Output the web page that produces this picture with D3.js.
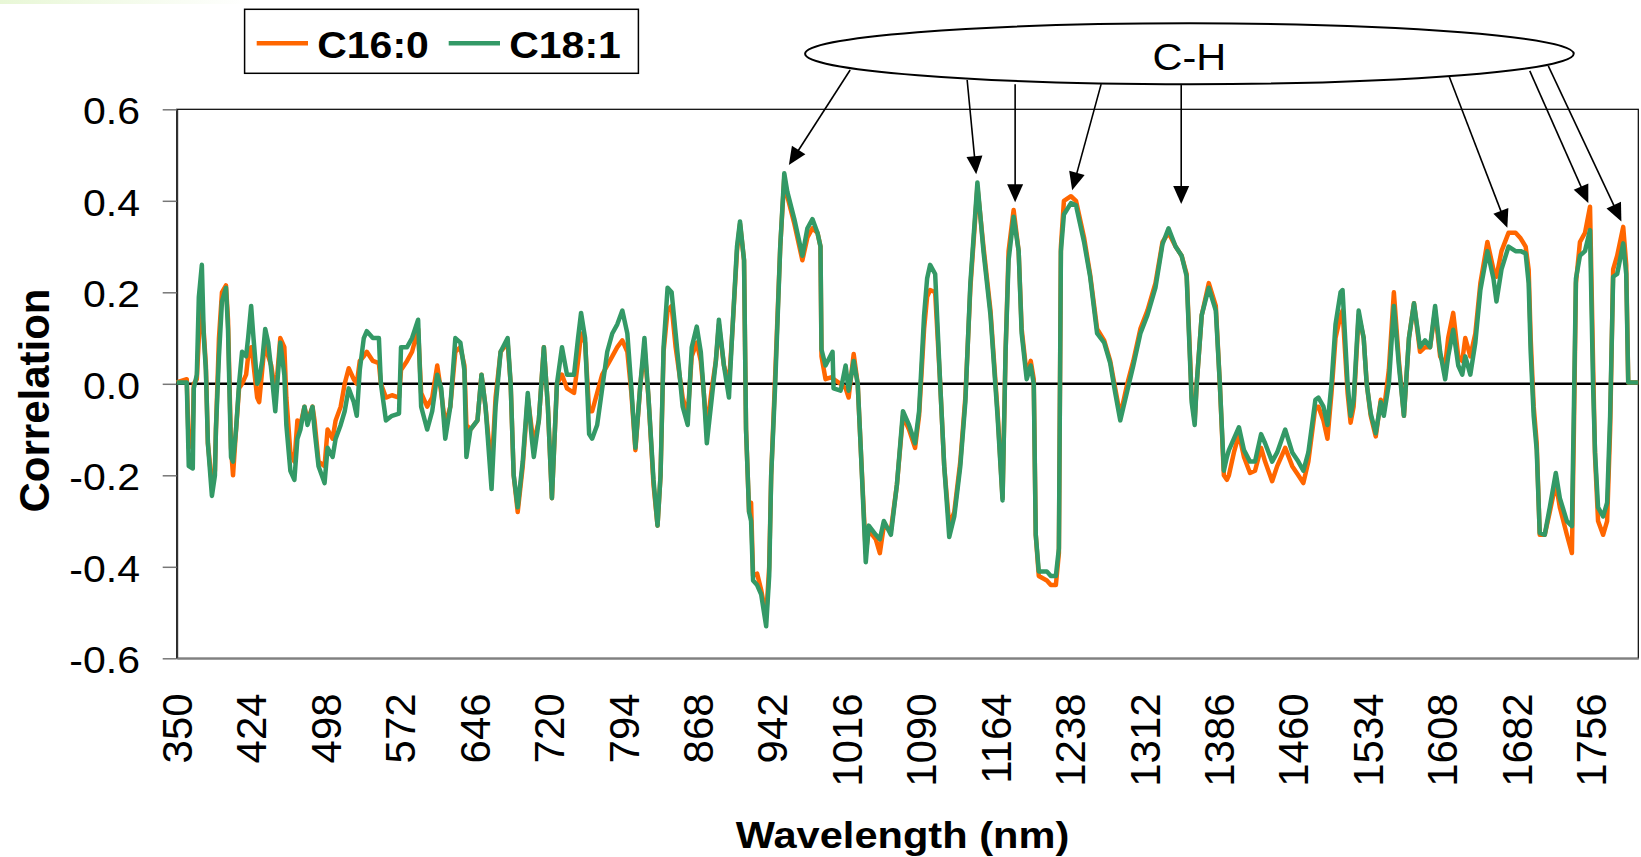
<!DOCTYPE html>
<html>
<head>
<meta charset="utf-8">
<script src="https://cdn.jsdelivr.net/npm/d3@7"></script>
<style>
    body { margin: 0; background: #fff; }
    text { font-family: "Liberation Sans", Arial, sans-serif; }
</style>
</head>
<body>
<div id="container"></div>
<script>
// correlation vs wavelength, [nm, r]
var c16_0 = [[350,.003],[360,.01],[362,-.14],[366,-.1],[367,0],[370,.01],[372,.1],[375,.16],[377,.11],[379,.04],[381,-.13],[385,-.22],[388,-.19],[389,-.1],[392,.1],[395,.2],[399,.215],[401,.14],[404,-.14],[406,-.2],[409,-.1],[412,-.01],[415,0],[419,.02],[421,.06],[424,.08],[426,.05],[430,-.03],[432,-.04],[435,.03],[438,.1],[441,.06],[444,.04],[448,-.02],[450,.02],[453,.1],[457,.08],[459,-.03],[463,-.15],[467,-.17],[470,-.08],[473,-.09],[477,-.05],[480,-.08],[485,-.05],[487,-.08],[491,-.17],[497,-.18],[500,-.1],[505,-.12],[508,-.08],[513,-.05],[517,0],[521,.034],[526,.01],[529,0],[532,.05],[536,.06],[539,.07],[545,.05],[551,.045],[553,0],[558,-.03],[564,-.025],[571,-.03],[573,.03],[579,.05],[584,.07],[590,.12],[593,-.02],[599,-.05],[604,-.03],[609,.04],[613,-.02],[617,-.09],[622,-.05],[627,.07],[632,.08],[636,.04],[638,-.09],[642,-.1],[649,-.08],[653,.02],[657,-.05],[663,-.19],[667,-.03],[672,.07],[679,.09],[682,0],[685,-.2],[689,-.28],[694,-.18],[699,-.03],[703,-.1],[705,-.13],[710,-.08],[715,.08],[719,-.05],[723,-.25],[728,0],[733,.02],[738,-.01],[745,-.02],[749,.05],[752,.11],[756,.09],[760,-.06],[763,-.06],[768,-.02],[773,.02],[778,.04],[783,.06],[788,.08],[793,.095],[798,.07],[802,-.02],[806,-.145],[811,0],[815,.08],[819,-.03],[824,-.22],[828,-.31],[831,-.2],[834,.07],[838,.16],[842,.17],[846,.08],[853,-.03],[858,-.07],[862,.06],[867,.09],[871,.05],[874,-.02],[877,-.1],[882,-.01],[886,.05],[889,.13],[894,.04],[899,0],[902,.1],[907,.29],[910,.35],[914,.27],[916,-.1],[919,-.28],[921,-.26],[923,-.42],[927,-.415],[931,-.45],[936,-.51],[939,-.4],[941,-.2],[945,.02],[950,.3],[954,.45],[957,.41],[964,.35],[972,.27],[977,.32],[982,.34],[987,.33],[990,.3],[991,.06],[995,.01],[1002,.015],[1003,.01],[1010,0],[1015,-.01],[1018,-.03],[1023,.065],[1027,0],[1030,-.14],[1035,-.37],[1038,-.32],[1045,-.34],[1049,-.37],[1053,-.31],[1060,-.32],[1066,-.22],[1072,-.07],[1078,-.1],[1084,-.14],[1088,-.07],[1093,.12],[1096,.19],[1099,.205],[1104,.2],[1109,0],[1113,-.18],[1118,-.31],[1123,-.28],[1129,-.17],[1134,-.03],[1139,.21],[1146,.43],[1152,.3],[1159,.16],[1166,-.06],[1171,-.25],[1174,.07],[1177,.29],[1182,.38],[1187,.29],[1190,.12],[1195,.02],[1199,.05],[1202,.01],[1204,-.33],[1207,-.42],[1215,-.43],[1219,-.44],[1224,-.44],[1227,-.37],[1229,.3],[1232,.4],[1239,.41],[1244,.4],[1252,.32],[1258,.24],[1265,.12],[1272,.095],[1278,.05],[1283,-.01],[1288,-.07],[1295,0],[1301,.05],[1308,.12],[1315,.16],[1323,.22],[1330,.31],[1336,.33],[1343,.3],[1349,.28],[1354,.24],[1357,.08],[1359,-.03],[1362,-.08],[1364,0],[1369,.15],[1376,.22],[1383,.17],[1387,0],[1391,-.2],[1394,-.21],[1396,-.2],[1401,-.15],[1406,-.11],[1411,-.16],[1417,-.195],[1422,-.19],[1428,-.14],[1432,-.17],[1439,-.213],[1444,-.18],[1452,-.14],[1459,-.18],[1465,-.2],[1470,-.217],[1475,-.17],[1482,-.05],[1485,-.05],[1490,-.08],[1494,-.12],[1498,-.02],[1502,.1],[1507,.15],[1509,.16],[1514,-.02],[1517,-.085],[1520,-.05],[1525,.15],[1530,.1],[1533,0],[1537,-.07],[1542,-.115],[1547,-.035],[1550,-.06],[1555,.03],[1560,.2],[1565,.05],[1570,-.07],[1575,.1],[1580,.176],[1586,.07],[1591,.08],[1596,.08],[1601,.16],[1606,.06],[1611,.04],[1614,.1],[1619,.155],[1624,.06],[1628,.05],[1631,.1],[1636,.06],[1641,.11],[1646,.22],[1653,.31],[1659,.25],[1662,.234],[1667,.29],[1674,.33],[1681,.33],[1686,.318],[1691,.3],[1694,.25],[1696,.1],[1699,-.05],[1702,-.13],[1705,-.33],[1710,-.33],[1715,-.28],[1721,-.217],[1725,-.27],[1732,-.33],[1737,-.37],[1739,-.1],[1741,.22],[1745,.31],[1750,.33],[1755,.387],[1758,.05],[1760,-.16],[1763,-.3],[1768,-.33],[1772,-.3],[1775,-.1],[1778,.25],[1782,.28],[1788,.343],[1791,.26],[1793,.003],[1803,.003]];

var c18_1 = [[350,.003],[360,.003],[362,-.18],[366,-.185],[367,-.01],[370,.02],[372,.19],[375,.26],[377,.1],[379,.03],[381,-.13],[385,-.245],[388,-.2],[389,-.1],[392,.06],[395,.18],[399,.21],[401,.12],[404,-.16],[406,-.17],[409,-.1],[412,0],[415,.07],[419,.06],[421,.1],[424,.17],[426,.11],[430,0],[432,.01],[435,.05],[438,.12],[441,.09],[444,.03],[448,-.06],[450,0],[453,.09],[457,.02],[459,-.09],[463,-.19],[467,-.21],[470,-.12],[473,-.1],[477,-.05],[480,-.09],[485,-.05],[487,-.1],[491,-.18],[497,-.217],[500,-.14],[505,-.16],[508,-.12],[513,-.09],[517,-.06],[521,-.01],[526,-.04],[529,-.07],[532,.03],[536,.1],[539,.115],[545,.1],[551,.1],[553,0],[558,-.08],[564,-.07],[571,-.065],[573,.08],[579,.08],[584,.1],[590,.14],[593,-.05],[599,-.1],[604,-.06],[609,.02],[613,-.01],[617,-.12],[622,-.05],[627,.1],[632,.09],[636,.03],[638,-.16],[642,-.1],[649,-.08],[653,.02],[657,-.05],[663,-.23],[667,-.05],[672,.07],[679,.1],[682,0],[685,-.2],[689,-.27],[694,-.17],[699,-.02],[703,-.12],[705,-.16],[710,-.08],[715,.08],[719,-.05],[723,-.25],[728,0],[733,.08],[738,.02],[745,.02],[749,.1],[752,.155],[756,.1],[760,-.11],[763,-.12],[768,-.09],[773,-.01],[778,.07],[783,.11],[788,.13],[793,.16],[798,.11],[802,-.01],[806,-.14],[811,0],[815,.1],[819,-.03],[824,-.21],[828,-.31],[831,-.2],[834,.08],[838,.21],[842,.2],[846,.11],[853,-.05],[858,-.09],[862,.08],[867,.125],[871,.07],[874,-.02],[877,-.13],[882,-.03],[886,.05],[889,.14],[894,.04],[899,-.03],[902,.1],[907,.3],[910,.355],[914,.27],[916,-.1],[919,-.28],[921,-.3],[923,-.43],[927,-.44],[931,-.46],[936,-.53],[939,-.42],[941,-.2],[945,0],[950,.3],[954,.46],[957,.42],[964,.36],[972,.28],[977,.34],[982,.36],[987,.33],[990,.3],[991,.075],[995,.04],[1002,.07],[1003,-.01],[1010,-.015],[1015,.04],[1018,-.015],[1023,.05],[1027,0],[1030,-.14],[1035,-.39],[1038,-.31],[1045,-.33],[1049,-.34],[1053,-.3],[1060,-.33],[1066,-.22],[1072,-.06],[1078,-.09],[1084,-.13],[1088,-.06],[1093,.15],[1096,.23],[1099,.26],[1104,.24],[1109,0],[1113,-.18],[1118,-.335],[1123,-.29],[1129,-.18],[1134,-.04],[1139,.22],[1146,.44],[1152,.29],[1159,.15],[1166,-.07],[1171,-.255],[1174,.07],[1177,.27],[1182,.365],[1187,.29],[1190,.11],[1195,.01],[1199,.04],[1202,0],[1204,-.33],[1207,-.41],[1215,-.41],[1219,-.42],[1224,-.42],[1227,-.36],[1229,.29],[1232,.37],[1239,.395],[1244,.39],[1252,.31],[1258,.235],[1265,.11],[1272,.09],[1278,.045],[1283,-.02],[1288,-.08],[1295,-.015],[1301,.04],[1308,.11],[1315,.15],[1323,.21],[1330,.305],[1336,.34],[1343,.3],[1349,.28],[1354,.235],[1357,.07],[1359,-.04],[1362,-.09],[1364,0],[1369,.15],[1376,.21],[1383,.16],[1387,0],[1391,-.19],[1394,-.16],[1396,-.145],[1401,-.12],[1406,-.095],[1411,-.145],[1417,-.17],[1422,-.17],[1428,-.11],[1432,-.13],[1439,-.17],[1444,-.15],[1452,-.1],[1459,-.15],[1465,-.17],[1470,-.19],[1475,-.15],[1482,-.035],[1485,-.03],[1490,-.05],[1494,-.09],[1498,0],[1502,.13],[1507,.2],[1509,.205],[1514,0],[1517,-.07],[1520,-.035],[1525,.16],[1530,.1],[1533,0],[1537,-.065],[1542,-.108],[1547,-.04],[1550,-.07],[1555,0],[1560,.17],[1565,.04],[1570,-.07],[1575,.1],[1580,.176],[1586,.08],[1591,.095],[1596,.08],[1601,.17],[1606,.07],[1611,.01],[1614,.06],[1619,.118],[1624,.04],[1628,.02],[1631,.06],[1636,.02],[1641,.09],[1646,.205],[1653,.29],[1659,.23],[1662,.18],[1667,.25],[1674,.3],[1681,.29],[1686,.29],[1691,.285],[1694,.22],[1696,.07],[1699,-.07],[1702,-.145],[1705,-.326],[1710,-.33],[1715,-.27],[1721,-.195],[1725,-.25],[1732,-.3],[1737,-.311],[1739,-.05],[1741,.23],[1745,.28],[1750,.29],[1755,.336],[1758,0],[1760,-.15],[1763,-.27],[1768,-.29],[1772,-.26],[1775,-.07],[1778,.234],[1782,.24],[1788,.307],[1791,.24],[1793,.003],[1803,.003]];

var seriesNames = ["C16:0", "C18:1"];
var xTicks = d3.range(350, 1757, 74);
var yTicks = [-0.6, -0.4, -0.2, 0, 0.2, 0.4, 0.6];

// C-H callout, in data units: ellipse box [nm left, nm right, r top, r bottom]
var calloutText = "C-H";
var calloutBox = [974.7, 1738.8, 0.788, 0.655];
var arrowFrom = [[1019.5, .686], [1135.8, .664], [1183.5, .655], [1269, .655], [1348.6, .653], [1615.1, .671], [1695.1, .684], [1713.5, .695]];
var arrowTo = [[958.6, .478], [1144.8, .458], [1183.5, .397], [1240.2, .423], [1348.6, .393], [1672.8, .341], [1753.3, .395], [1786.2, .355]];

var colors = ["#ff6600", "#339966"];
var width = 1641, height = 857;
var plot = { left: 176.7, right: 1638.3, top: 109.3, bottom: 658.3 };

var x = d3.scaleLinear().domain([350, 1803]).range([plot.left, plot.right]);
var y = d3.scaleLinear().domain([-0.6, 0.6]).range([plot.bottom, plot.top]);

var svg = d3.select("#container")
    .append("svg")
    .attr("width", width)
    .attr("height", height)
    .style("display", "block")
    .style("background", "#fff");

var defs = svg.append("defs");
var grad = defs.append("linearGradient").attr("id", "strip");
grad.append("stop").attr("offset", "0%").attr("stop-color", "#e8f7d6");
grad.append("stop").attr("offset", "100%").attr("stop-color", "#ffffff");

// faint strip in the top-left corner of the original
svg.append("rect").attr("x", 0).attr("y", 0).attr("width", 250).attr("height", 4).attr("fill", "url(#strip)");

// plot frame
svg.append("rect")
    .attr("x", plot.left)
    .attr("y", plot.top)
    .attr("width", plot.right - plot.left)
    .attr("height", plot.bottom - plot.top)
    .attr("fill", "none")
    .attr("stroke", "#000")
    .attr("stroke-width", 1.2);

// y axis
var yAxis = svg.append("g")
    .attr("transform", "translate(" + plot.left + ",0)")
    .call(d3.axisLeft(y).tickValues(yTicks).tickSize(14).tickSizeOuter(0)
        .tickFormat(function (d) { return d.toFixed(1); }));
yAxis.select(".domain").attr("stroke", "#333").attr("stroke-width", 2);
yAxis.selectAll(".tick line").attr("stroke", "#777").attr("stroke-width", 1.5);
yAxis.selectAll(".tick text")
    .attr("x", 0)
    .attr("dy", "0.38em")
    .attr("font-size", 41)
    .attr("fill", "#000")
    .attr("transform", "translate(-36.7,0) scale(1,0.92)");

// x axis
var xAxis = svg.append("g")
    .attr("transform", "translate(0," + plot.bottom + ")")
    .call(d3.axisBottom(x).tickValues(xTicks).tickSize(0).tickSizeOuter(0).tickFormat(d3.format("d")));
xAxis.select(".domain").attr("stroke", "#808080").attr("stroke-width", 2);
xAxis.selectAll(".tick text")
    .attr("x", 0)
    .attr("y", 0)
    .attr("dy", "0.35em")
    .attr("font-size", 42)
    .attr("fill", "#000")
    .attr("text-anchor", "end")
    .attr("transform", "translate(0,35) rotate(-90)");

// zero line
svg.append("line")
    .attr("x1", x(350)).attr("x2", x(1803))
    .attr("y1", y(0)).attr("y2", y(0))
    .attr("stroke", "#000")
    .attr("stroke-width", 2.5);

// series
var line = d3.line()
    .x(function (d) { return x(d[0]); })
    .y(function (d) { return y(d[1]); });

svg.selectAll("path.series")
    .data([c16_0, c18_1])
    .enter()
    .append("path")
    .attr("class", "series")
    .attr("d", line)
    .attr("fill", "none")
    .attr("stroke", function (d, i) { return colors[i]; })
    .attr("stroke-width", 4.5)
    .attr("stroke-linejoin", "round");

// axis titles
svg.append("text")
    .attr("transform", "translate(49,400.5) rotate(-90)")
    .attr("text-anchor", "middle")
    .attr("font-size", 42)
    .attr("font-weight", "bold")
    .text("Correlation");

svg.append("text")
    .attr("transform", "translate(902.5,848) scale(1,0.9)")
    .attr("text-anchor", "middle")
    .attr("font-size", 41.6)
    .attr("font-weight", "bold")
    .text("Wavelength (nm)");

// legend
var legend = svg.append("g");
legend.append("rect")
    .attr("x", 244.6).attr("y", 9.3)
    .attr("width", 393.8).attr("height", 64)
    .attr("fill", "#fff")
    .attr("stroke", "#000")
    .attr("stroke-width", 1.5);
var item = legend.selectAll("g.item")
    .data(seriesNames)
    .enter()
    .append("g")
    .attr("class", "item")
    .attr("transform", function (d, i) { return "translate(" + (256.7 + i * 192) + ",0)"; });
item.append("line")
    .attr("x1", 0).attr("x2", 51.3)
    .attr("y1", 43.3).attr("y2", 43.3)
    .attr("stroke", function (d, i) { return colors[i]; })
    .attr("stroke-width", 4.5);
item.append("text")
    .attr("transform", "translate(60.5,58.3) scale(1,0.9)")
    .attr("font-size", 41)
    .attr("font-weight", "bold")
    .text(function (d) { return d; });

// C-H callout: shafts stop short of the tip, filled heads drawn as polygons
var cx = x((calloutBox[0] + calloutBox[1]) / 2);
var cy = (y(calloutBox[2]) + y(calloutBox[3])) / 2;
var headLen = 18, headHalf = 8;

var arrows = svg.selectAll("g.arrow")
    .data(arrowFrom.map(function (d, i) {
        var x1 = x(d[0]), y1 = y(d[1]), x2 = x(arrowTo[i][0]), y2 = y(arrowTo[i][1]);
        var len = Math.sqrt((x2 - x1) * (x2 - x1) + (y2 - y1) * (y2 - y1));
        return { x1: x1, y1: y1, x2: x2, y2: y2, ux: (x2 - x1) / len, uy: (y2 - y1) / len };
    }))
    .enter()
    .append("g")
    .attr("class", "arrow");

arrows.append("line")
    .attr("x1", function (d) { return d.x1; })
    .attr("y1", function (d) { return d.y1; })
    .attr("x2", function (d) { return d.x2 - d.ux * headLen * 0.8; })
    .attr("y2", function (d) { return d.y2 - d.uy * headLen * 0.8; })
    .attr("stroke", "#000")
    .attr("stroke-width", 1.6);

arrows.append("path")
    .attr("d", function (d) {
        var bx = d.x2 - d.ux * headLen, by = d.y2 - d.uy * headLen;
        return "M" + d.x2 + "," + d.y2 +
            "L" + (bx - d.uy * headHalf) + "," + (by + d.ux * headHalf) +
            "L" + (bx + d.uy * headHalf) + "," + (by - d.ux * headHalf) + "Z";
    })
    .attr("fill", "#000");

svg.append("ellipse")
    .attr("cx", cx)
    .attr("cy", cy)
    .attr("rx", (x(calloutBox[1]) - x(calloutBox[0])) / 2)
    .attr("ry", (y(calloutBox[3]) - y(calloutBox[2])) / 2)
    .attr("fill", "#fff")
    .attr("stroke", "#000")
    .attr("stroke-width", 2);

svg.append("text")
    .attr("transform", "translate(" + cx + "," + (cy + 16.3) + ") scale(1,0.9)")
    .attr("text-anchor", "middle")
    .attr("font-size", 41.5)
    .text(calloutText);
</script>
</body>
</html>
